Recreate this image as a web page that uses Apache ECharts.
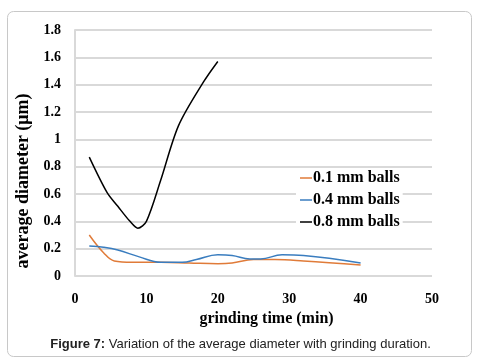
<!DOCTYPE html>
<html>
<head>
    <meta charset="UTF-8">
    <title>Figure 7</title>
    <script src="https://cdn.jsdelivr.net/npm/echarts@6/dist/echarts.min.js"></script>
    <style>
        html, body { margin: 0; padding: 0; background: #fff; }
        #main { width: 481px; height: 364px; }
    </style>
</head>
<body>
<div id="main"></div>
<script type="text/javascript">
    // 数据
    var seriesNames = ['0.1 mm balls', '0.4 mm balls', '0.8 mm balls'];

    var timeA = [2, 4, 5.5, 8, 12, 16, 20, 22, 25, 28, 32, 40];
    var sizeA = [0.30, 0.17, 0.11, 0.10, 0.10, 0.095, 0.09, 0.095, 0.12, 0.12, 0.11, 0.08];

    var timeB = [2, 4, 6, 9, 12, 15, 17, 20, 22, 24.5, 26, 29, 32, 40];
    var sizeB = [0.22, 0.21, 0.19, 0.14, 0.10, 0.10, 0.12, 0.155, 0.15, 0.125, 0.125, 0.155, 0.15, 0.095];

    var timeC = [2, 4.5, 6, 7.7, 8.8, 10, 12, 14.5, 18, 20];
    var sizeC = [0.87, 0.61, 0.51, 0.40, 0.35, 0.40, 0.70, 1.10, 1.42, 1.57];

    var xTicks = [0, 10, 20, 30, 40, 50];

    function pairs(xs, ys) {
        var out = [];
        for (var k = 0; k < xs.length; k++) out.push([xs[k], ys[k]]);
        return out;
    }

    var serif = "'Liberation Serif', 'Times New Roman', serif";
    var colors = ['#e07b39', '#3a7dbf', '#000000'];

    var myChart = echarts.init(document.getElementById('main'));
    var option = {
        animation: false,
        backgroundColor: '#fff',
        color: colors,
        grid: { left: 75, right: 49, top: 30, bottom: 88 },
        title: {
            text: '{b|Figure 7:} Variation of the average diameter with grinding duration.',
            left: 'center',
            top: 333,
            textStyle: {
                fontFamily: "'Liberation Sans', Arial, sans-serif",
                fontSize: 13,
                fontWeight: 'normal',
                color: '#222',
                rich: { b: { fontWeight: 'bold', fontSize: 13, fontFamily: "'Liberation Sans', Arial, sans-serif", color: '#222' } }
            }
        },
        graphic: [{
            type: 'rect',
            silent: true,
            shape: { x: 7.5, y: 11.5, width: 464, height: 345, r: 6 },
            style: { fill: 'none', stroke: '#c8c8c8', lineWidth: 1 }
        }],
        legend: {
            orient: 'vertical',
            left: 296,
            top: 169,
            backgroundColor: '#fff',
            padding: [1, 3, 2, 4],
            itemGap: 6,
            itemWidth: 12,
            itemHeight: 1.5,
            icon: 'rect',
            textStyle: {
                fontFamily: serif,
                fontWeight: 'bold',
                fontSize: 16,
                color: '#000',
                padding: [0, 0, 0, -4]
            },
            data: seriesNames
        },
        xAxis: {
            type: 'value',
            min: 0,
            max: 50,
            interval: 10,
            name: 'grinding time (min)',
            nameLocation: 'middle',
            nameGap: 35,
            nameTextStyle: {
                fontFamily: serif, fontWeight: 'bold', fontSize: 16, color: '#000',
                padding: [0, 0, 0, 26]
            },
            axisLine: { show: false },
            axisTick: { show: false },
            splitLine: { show: false },
            axisLabel: {
                margin: 16,
                fontFamily: serif, fontWeight: 'bold', fontSize: 14, color: '#000',
                customValues: xTicks
            }
        },
        yAxis: {
            type: 'value',
            min: 0,
            max: 1.8,
            interval: 0.2,
            name: 'average diameter (μm)',
            nameLocation: 'middle',
            nameGap: 42,
            nameTextStyle: {
                fontFamily: serif, fontWeight: 'bold', fontSize: 18, color: '#000',
                padding: [0, 56, 0, 0]
            },
            axisLine: { show: true, lineStyle: { color: '#d9d9d9', width: 2 } },
            axisTick: { show: false },
            splitLine: { show: true, lineStyle: { color: '#d9d9d9', width: 2 } },
            axisLabel: {
                margin: 14,
                fontFamily: serif, fontWeight: 'bold', fontSize: 14, color: '#000',
                formatter: function (v) { return String(Math.round(v * 10) / 10); }
            }
        },
        series: [{
            name: seriesNames[0],
            type: 'line',
            smooth: 0.4,
            showSymbol: false,
            lineStyle: { width: 1.5, color: colors[0] },
            data: pairs(timeA, sizeA)
        }, {
            name: seriesNames[1],
            type: 'line',
            smooth: 0.4,
            showSymbol: false,
            lineStyle: { width: 1.5, color: colors[1] },
            data: pairs(timeB, sizeB)
        }, {
            name: seriesNames[2],
            type: 'line',
            smooth: 0.3,
            showSymbol: false,
            lineStyle: { width: 1.5, color: colors[2] },
            data: pairs(timeC, sizeC)
        }]
    };
    myChart.setOption(option);
</script>
</body>
</html>
